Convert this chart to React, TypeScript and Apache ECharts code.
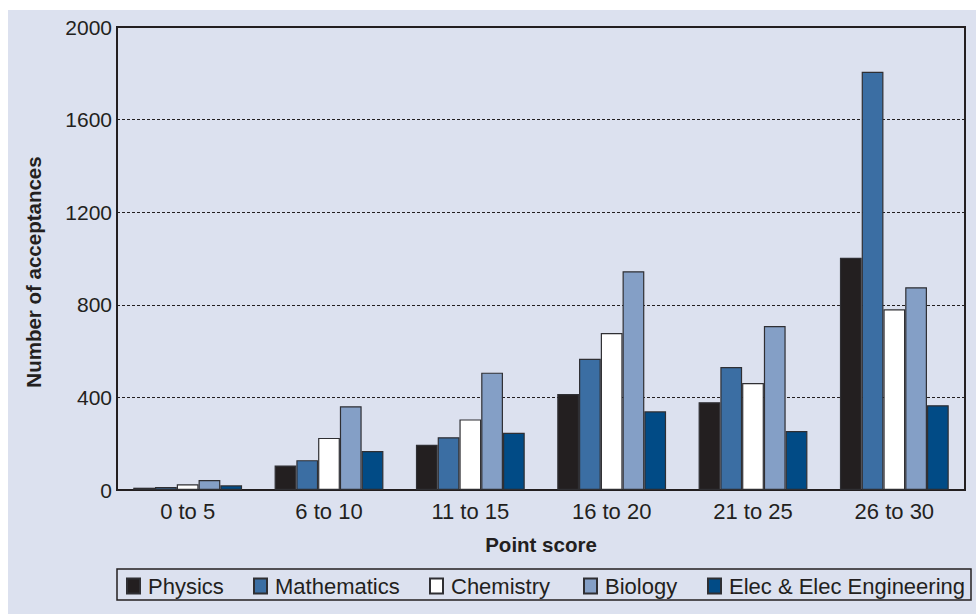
import React, { useEffect, useRef } from "react";
import * as echarts from "echarts";

const categories = ["0 to 5", "6 to 10", "11 to 15", "16 to 20", "21 to 25", "26 to 30"];
const physics = [10, 106, 195, 415, 379, 1003];
const mathematics = [13, 129, 228, 567, 531, 1807];
const chemistry = [25, 225, 305, 678, 462, 781];
const biology = [43, 362, 507, 945, 708, 876];
const elecEng = [20, 168, 247, 340, 255, 366];
const seriesNames = ["Physics", "Mathematics", "Chemistry", "Biology", "Elec & Elec Engineering"];
const seriesColors = ["#231f20", "#3b6ea3", "#ffffff", "#849fc6", "#014b86"];
const yTicks = [0, 400, 800, 1200, 1600, 2000];

const FONT = "'Liberation Sans', Arial, Helvetica, sans-serif";
const TEXT = "#231f20";

export default function App() {
  const ref = useRef<HTMLDivElement>(null);
  useEffect(() => {
    if (!ref.current) return;
    const chart = echarts.init(ref.current, null, { renderer: "svg" });
    const data = [physics, mathematics, chemistry, biology, elecEng];
    const legendLefts = [126, 253, 429, 583, 707];
    chart.setOption({
      animation: false,
      textStyle: { fontFamily: FONT },
      graphic: [
        {
          type: "rect",
          z: -100,
          silent: true,
          shape: { x: 8, y: 10, width: 968, height: 604 },
          style: { fill: "#dce1ef" },
        },
        {
          type: "rect",
          z: 1,
          silent: true,
          shape: { x: 117, y: 569, width: 854, height: 31 },
          style: { fill: "none", stroke: "#231f20", lineWidth: 1.5 },
        },
        {
          type: "text",
          x: 33,
          y: 272,
          rotation: Math.PI / 2,
          silent: true,
          style: {
            text: "Number of acceptances",
            fontSize: 20.5,
            fontWeight: "bold",
            fontFamily: FONT,
            fill: TEXT,
            align: "center",
            verticalAlign: "middle",
          },
        },
      ],
      grid: {
        left: 117,
        right: 11,
        top: 27,
        bottom: 124,
        show: true,
        borderColor: "#231f20",
        borderWidth: 2,
        backgroundColor: "transparent",
      },
      legend: seriesNames.map((n, i) => ({
        data: [n],
        left: legendLefts[i],
        top: 575,
        padding: 0,
        itemWidth: 13,
        itemHeight: 15,
        itemGap: 0,
        icon: "rect",
        selectedMode: false,
        textStyle: { fontSize: 22, color: TEXT, fontFamily: FONT, padding: [0, 0, 0, 3] },
      })),
      xAxis: {
        type: "category",
        data: categories,
        name: "Point score",
        nameLocation: "middle",
        nameGap: 44,
        nameTextStyle: { fontSize: 20.5, fontWeight: "bold", color: TEXT, fontFamily: FONT },
        axisLine: { lineStyle: { color: "#231f20", width: 2 } },
        axisTick: { show: false },
        axisLabel: { fontSize: 22, color: TEXT, margin: 10, fontFamily: FONT },
      },
      yAxis: {
        type: "value",
        min: 0,
        max: 2000,
        interval: 400,
        axisLine: { show: true, lineStyle: { color: "#231f20", width: 2 } },
        axisTick: { show: false },
        axisLabel: {
          fontSize: 21,
          color: TEXT,
          margin: 5,
          fontFamily: FONT,
          formatter: (v: number) => (yTicks.includes(v) ? String(v) : ""),
        },
        splitLine: {
          show: true,
          lineStyle: { color: "#231f20", width: 1, type: [3, 2] },
        },
      },
      series: seriesNames.map((n, i) => ({
        name: n,
        type: "bar",
        data: data[i],
        barGap: "0%",
        barCategoryGap: "23%",
        itemStyle: {
          color: seriesColors[i],
          borderColor: "#2f2f33",
          borderWidth: 1.2,
        },
      })),
    });
    return () => chart.dispose();
  }, []);
  return (
    <div
      ref={ref}
      style={{ position: "fixed", left: 0, top: 0, width: 976, height: 614, background: "#ffffff" }}
    />
  );
}
